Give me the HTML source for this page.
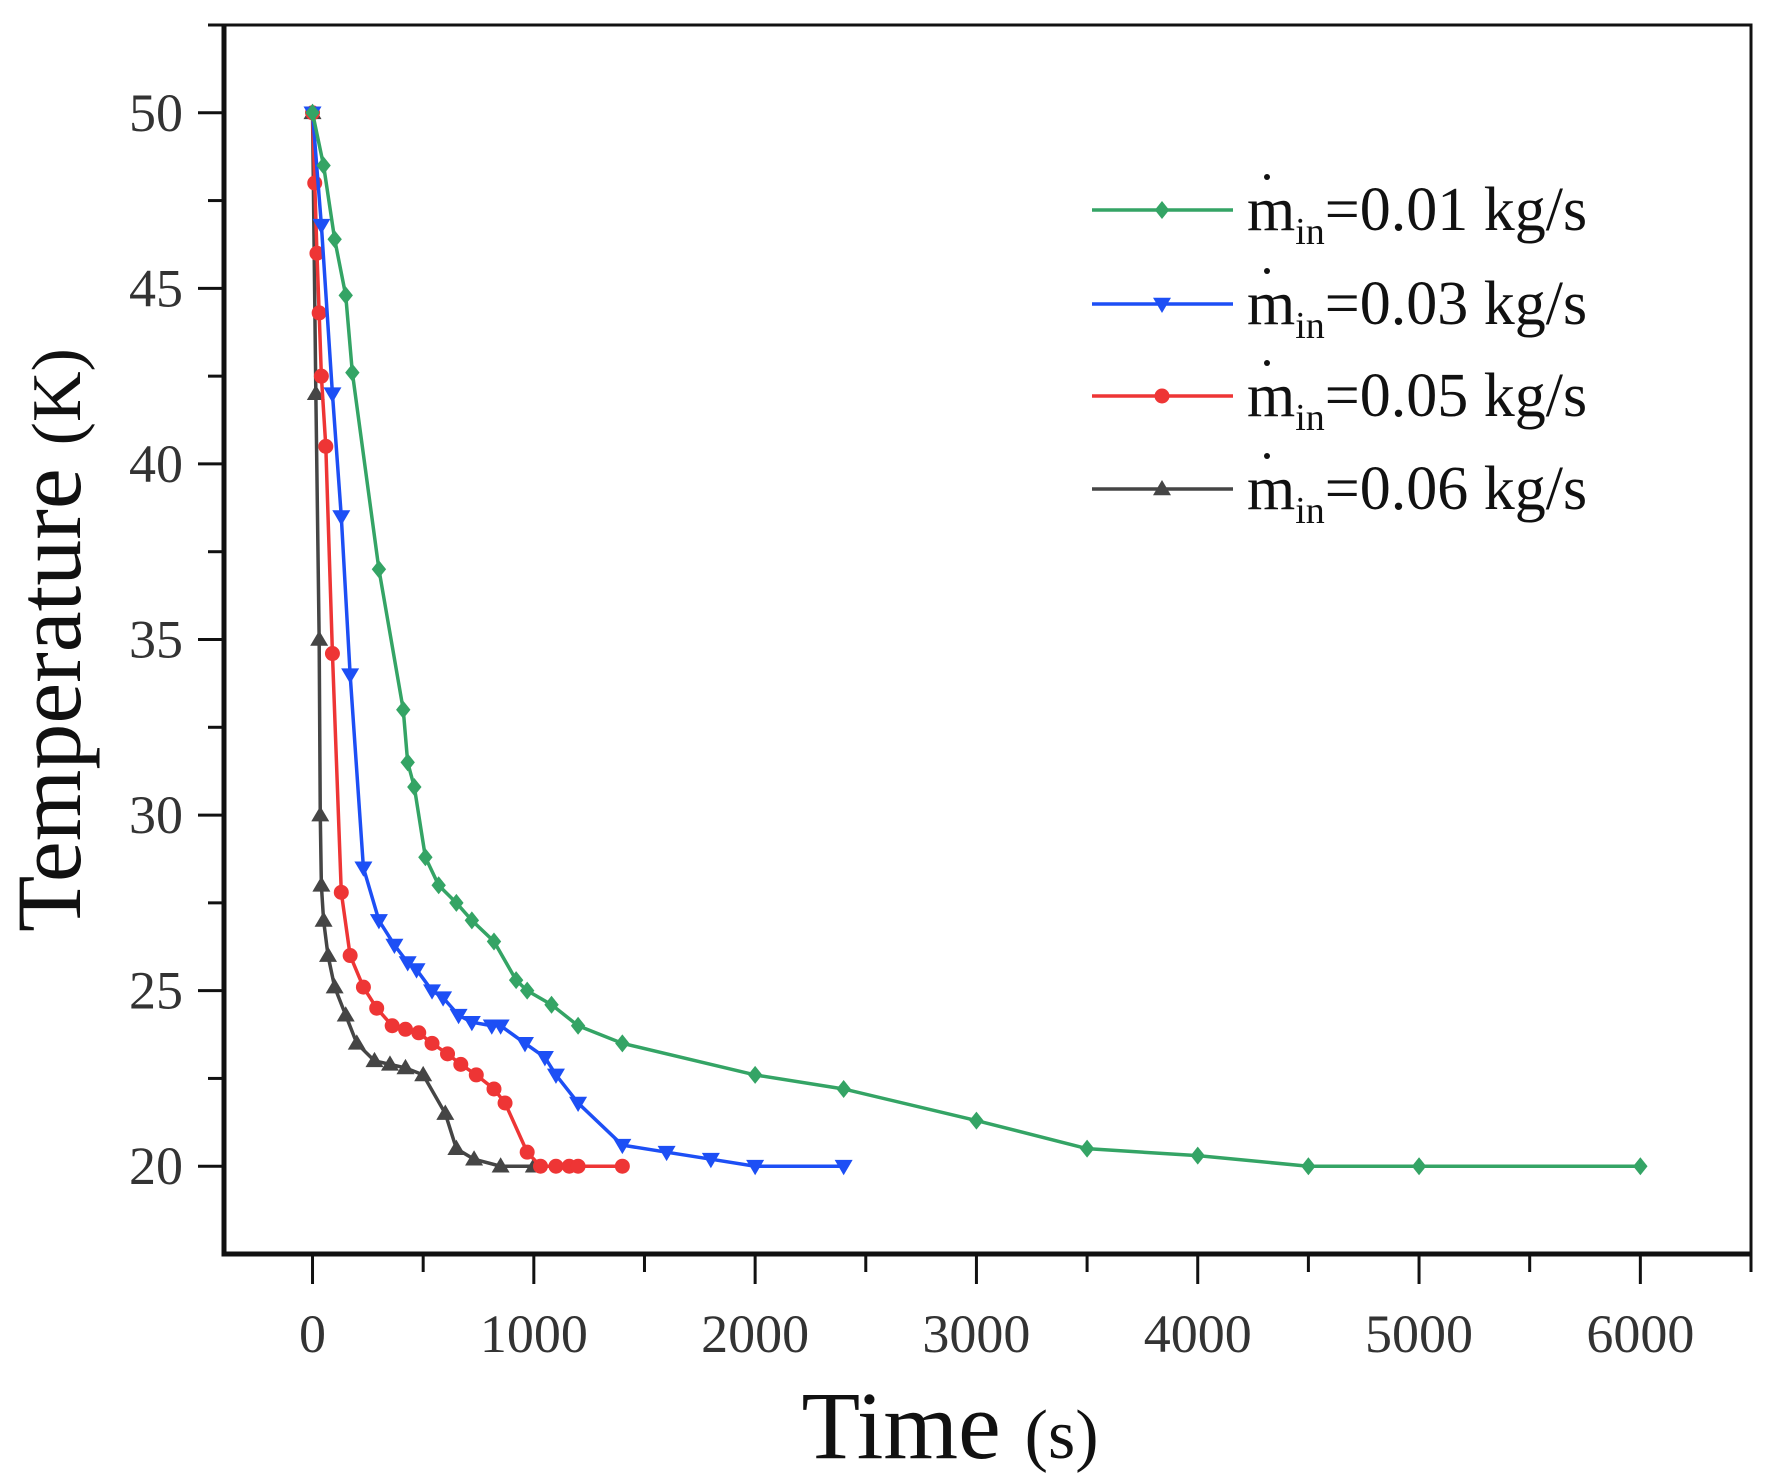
<!DOCTYPE html>
<html><head><meta charset="utf-8"><style>
body{margin:0;background:#fff}
svg text{font-family:"Liberation Serif",serif}
</style></head><body>
<svg id="chart" width="1765" height="1477" viewBox="0 0 1765 1477" xmlns="http://www.w3.org/2000/svg">
<g id="axes"></g>
<g id="series"></g>
<g id="legend"></g>
<text transform="translate(80,640) rotate(-90)" text-anchor="middle" font-size="92" fill="#111">Temperature <tspan font-size="70">(K)</tspan></text>
<text x="950" y="1458" text-anchor="middle" font-size="96" fill="#111">Time <tspan font-size="70">(s)</tspan></text>
</svg>
<script>
const xTicks=[0,1000,2000,3000,4000,5000,6000];
const yTicks=[20,25,30,35,40,45,50];
const greenT=[0,50,100,150,180,300,410,430,460,510,570,650,720,820,920,970,1080,1200,1400,2000,2400,3000,3500,4000,4500,5000,6000];
const greenV=[50,48.5,46.4,44.8,42.6,37,33,31.5,30.8,28.8,28,27.5,27,26.4,25.3,25,24.6,24,23.5,22.6,22.2,21.3,20.5,20.3,20,20,20];
const blueT=[0,40,90,130,170,230,300,370,430,470,540,590,660,720,810,850,960,1050,1100,1200,1400,1600,1800,2000,2400];
const blueV=[50,46.8,42,38.5,34,28.5,27,26.3,25.8,25.6,25,24.8,24.3,24.1,24,24,23.5,23.1,22.6,21.8,20.6,20.4,20.2,20,20];
const redT=[0,10,20,30,40,60,90,130,170,230,290,360,420,480,540,610,670,740,820,870,970,1030,1100,1160,1200,1400];
const redV=[50,48,46,44.3,42.5,40.5,34.6,27.8,26,25.1,24.5,24,23.9,23.8,23.5,23.2,22.9,22.6,22.2,21.8,20.4,20,20,20,20,20];
const blackT=[0,15,30,35,40,50,70,100,150,200,280,350,420,500,600,650,730,850,1000];
const blackV=[50,42,35,30,28,27,26,25.1,24.3,23.5,23,22.9,22.8,22.6,21.5,20.5,20.2,20,20];
const legendLabels=["0.01","0.03","0.05","0.06"];

const NS="http://www.w3.org/2000/svg";
const L=224,R=1751,T=25,B=1254,xmin=-400,xmax=6500,ymin=17.5,ymax=52.5;
const X=v=>L+(v-xmin)/(xmax-xmin)*(R-L);
const Y=v=>B-(v-ymin)/(ymax-ymin)*(B-T);
function mk(tag,attrs,parent){const e=document.createElementNS(NS,tag);for(const k in attrs)e.setAttribute(k,attrs[k]);parent.appendChild(e);return e;}
const ax=document.getElementById('axes');
let fr=mk('rect',{x:L,y:T,width:R-L,height:B-T,fill:'none',stroke:'#111','stroke-width':3},ax);


let bl=mk('path',{d:`M${L},${T} V${B} H${R}`,fill:'none',stroke:'#111','stroke-width':5},ax);


for(let v=-500;v<=6500;v+=500){if(v<xmin)continue;const major=v%1000===0&&v>=0;
 const t=mk('line',{x1:X(v),x2:X(v),y1:B,y2:B+(major?30:18),stroke:'#111','stroke-width':3},ax);
 
 }
xTicks.forEach(v=>{const t=mk('text',{x:X(v),y:1352,'text-anchor':'middle','font-size':54,fill:'#333'},ax);t.textContent=v;
 
 });
for(let v=20;v<=52.5;v+=2.5){const major=v%5===0;
 const t=mk('line',{x1:L,x2:L-(major?26:16),y1:Y(v),y2:Y(v),stroke:'#111','stroke-width':3},ax);
 
 }
yTicks.forEach(v=>{const t=mk('text',{x:183,y:Y(v)+18,'text-anchor':'end','font-size':54,fill:'#333'},ax);t.textContent=v;
 
 });

function marker(type,cx,cy,col,g){let e;const s=9;
 if(type==='diamond')e=mk('polygon',{points:`${cx},${cy-s} ${cx+s*0.8},${cy} ${cx},${cy+s} ${cx-s*0.8},${cy}`,fill:col},g);
 else if(type==='down')e=mk('polygon',{points:`${cx-s},${cy-s*0.7} ${cx+s},${cy-s*0.7} ${cx},${cy+s}`,fill:col},g);
 else if(type==='up')e=mk('polygon',{points:`${cx-s},${cy+s*0.7} ${cx+s},${cy+s*0.7} ${cx},${cy-s}`,fill:col},g);
 else e=mk('circle',{cx:cx,cy:cy,r:7.5,fill:col},g);
 return e;}
const sg=document.getElementById('series');
const series=[[greenT,greenV,'#34a465','diamond','series-0.01'],[blueT,blueV,'#1d4ff5','down','series-0.03'],[redT,redV,'#ee3535','circle','series-0.05'],[blackT,blackV,'#454545','up','series-0.06']];
series.slice().reverse().forEach(([t,v,col,m,name])=>{
 const g=mk('g',{},sg);
 
 
 const p=mk('polyline',{points:t.map((x,i)=>X(x)+','+Y(v[i])).join(' '),fill:'none',stroke:col,'stroke-width':3.5},g);
 
 
 t.forEach((x,i)=>{const e=marker(m,X(x),Y(v[i]),col,g);
  
  });
});
const lg=document.getElementById('legend');
const ly=[210,304,396,489];
series.forEach(([t,v,col,m],i)=>{
 const g=mk('g',{},lg);
 
 
 mk('line',{x1:1092,x2:1233,y1:ly[i],y2:ly[i],stroke:col,'stroke-width':3.5},g);
 marker(m,1162,ly[i],col,g);
 const tx=mk('text',{x:1247,y:ly[i]+20,'font-size':62,fill:'#111'},g);
 tx.innerHTML=`m<tspan font-size="38" dy="14">in</tspan><tspan dy="-14">=${legendLabels[i]} kg/s</tspan>`;
 mk('circle',{cx:1267,cy:ly[i]-33,r:3,fill:'#111'},g);
});
</script>
</body></html>
